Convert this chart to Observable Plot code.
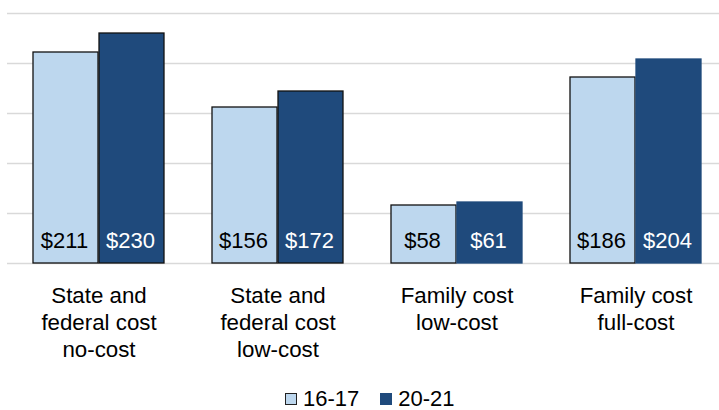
<!DOCTYPE html>
<html>
<head>
<meta charset="utf-8">
<script src="https://cdn.jsdelivr.net/npm/d3@7"></script>
<script src="https://cdn.jsdelivr.net/npm/@observablehq/plot@0.6"></script>
<style>
  html, body { margin: 0; padding: 0; background: #fff; }
  #wrap { position: relative; width: 719px; height: 410px; font-family: Arial, "Liberation Sans", sans-serif; }
  #legend { position: absolute; left: 285px; top: 388px; height: 21px; display: flex; align-items: center; font-size: 22px; color: #000; line-height: 21px; }
  .sw { display: inline-block; width: 12px; height: 12px; margin-right: 6px; box-sizing: border-box; }
  .item { display: flex; align-items: center; margin-right: 21px; }
</style>
</head>
<body>
<div id="wrap"></div>
<script>
const categories = ["State and\nfederal cost\nno-cost", "State and\nfederal cost\nlow-cost", "Family cost\nlow-cost", "Family cost\nfull-cost"];
const seriesNames = ["16-17", "20-21"];
const values1617 = [211, 156, 58, 186];
const values2021 = [230, 172, 61, 204];
const yTicks = [0, 50, 100, 150, 200, 250];

const lightColor = "#BDD7EE";
const darkColor = "#1F4A7C";

const rowsA = categories.map((c, i) => ({category: c, series: seriesNames[0], value: values1617[i]}));
const rowsB = categories.map((c, i) => ({category: c, series: seriesNames[1], value: values2021[i]}));

const chart = Plot.plot({
  width: 719,
  height: 385,
  marginTop: 13,
  marginBottom: 122,
  marginLeft: 7,
  marginRight: 0,
  style: {fontFamily: "Arial, 'Liberation Sans', sans-serif", color: "#000", background: "#fff"},
  x: {domain: categories, range: [8, 727], paddingInner: 0.266, paddingOuter: 0.133, label: null},
  y: {domain: [0, 250], axis: null},
  marks: [
    Plot.ruleY(yTicks, {stroke: "#d9d9d9", strokeWidth: 1.5}),
    Plot.barY(rowsA, {x: "category", y: "value", fill: lightColor, stroke: "#111", strokeWidth: 1.3, insetRight: 66}),
    Plot.barY(rowsB, {x: "category", y: "value", fill: darkColor,
      stroke: d => d.category.startsWith("State") ? "#111" : darkColor, strokeWidth: 1.3, insetLeft: 66}),
    Plot.text(rowsA, {x: "category", text: d => "$" + d.value, frameAnchor: "bottom", lineAnchor: "bottom", dx: -34.5, dy: -16, fontSize: 22, fill: "#000"}),
    Plot.text(rowsB, {x: "category", text: d => "$" + d.value, frameAnchor: "bottom", lineAnchor: "bottom", dx: 31.5, dy: -16, fontSize: 22, fill: "#fff"}),
    Plot.axisX({tickSize: 0, tickPadding: 20, fontSize: 22.3, lineHeight: 1.21, label: null})
  ]
});

const wrap = document.getElementById("wrap");
wrap.appendChild(chart);

const legend = d3.select(wrap).append("div").attr("id", "legend");
const legendStyles = [
  {fill: lightColor, border: "1.5px solid #222"},
  {fill: darkColor, border: "none"}
];
seriesNames.forEach((s, i) => {
  const item = legend.append("div").attr("class", "item");
  item.append("span").attr("class", "sw")
    .style("background", legendStyles[i].fill)
    .style("border", legendStyles[i].border);
  item.append("span").text(s);
});
</script>
</body>
</html>
